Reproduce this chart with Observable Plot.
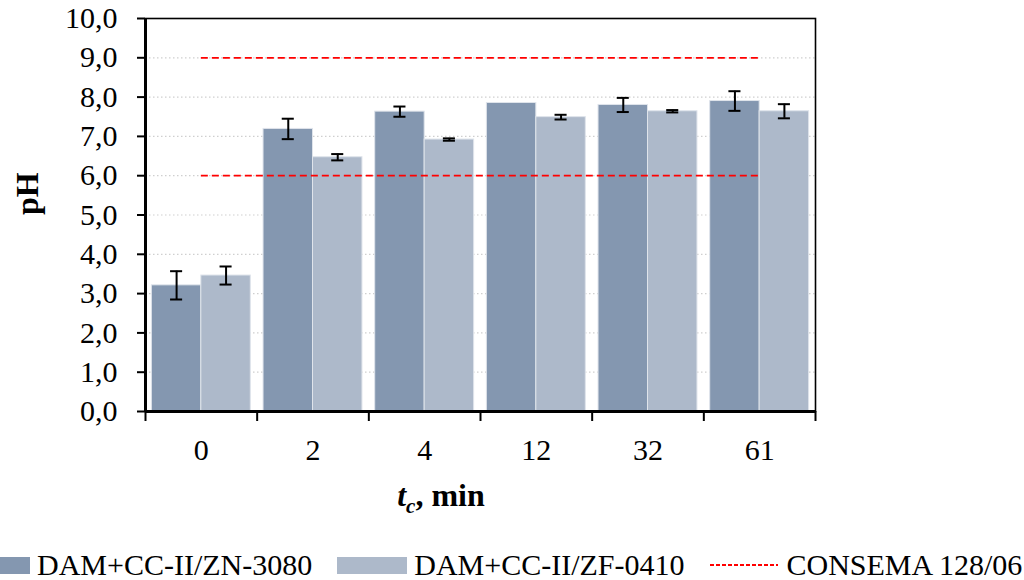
<!DOCTYPE html>
<html>
<head>
<meta charset="utf-8">
<script src="https://cdn.jsdelivr.net/npm/d3@7"></script>
<script src="https://cdn.jsdelivr.net/npm/@observablehq/plot@0.6"></script>
<style>
  html, body { margin: 0; padding: 0; background: #fff; }
  #wrap { position: relative; width: 1024px; height: 580px; overflow: hidden; }
  #legend { position: absolute; left: -40px; top: 548px; height: 34px; display: flex; align-items: center;
            white-space: nowrap; font-family: "Liberation Serif", "Times New Roman", serif; font-size: 30px; line-height: 34px; color: #000; }
  .sw { display: inline-block; width: 70px; height: 17px; }
</style>
</head>
<body>
<div id="wrap"></div>
<script>
// ---- data ----
const categories = ["0", "2", "4", "12", "32", "61"];
const seriesNames = ["DAM+CC-II/ZN-3080", "DAM+CC-II/ZF-0410"];
const zn    = [3.21, 7.19, 7.63, 7.85, 7.80, 7.90];
const znErr = [0.36, 0.26, 0.13, 0.00, 0.18, 0.25];
const zf    = [3.46, 6.47, 6.92, 7.49, 7.64, 7.64];
const zfErr = [0.23, 0.08, 0.03, 0.06, 0.03, 0.18];
const limitName = "CONSEMA 128/06";
const limits = [6, 9];
const yTicks = [0, 1, 2, 3, 4, 5, 6, 7, 8, 9, 10];
const colors = ["#8497b0", "#adb9ca"];

// ---- table ----
const rows = categories.flatMap((c, i) => [
  {i, s: 0, cat: c, v: zn[i], e: znErr[i]},
  {i, s: 1, cat: c, v: zf[i], e: zfErr[i]}
]);
const pad = 0.057, mid = 0.5, end = 0.943;
const x1 = d => d.i + (d.s === 0 ? pad : mid);
const x2 = d => d.i + (d.s === 0 ? mid : end);
const xc = d => (x1(d) + x2(d)) / 2;
const cap = 0.054;
const errRows = rows.filter(d => d.e > 0);
const boundaries = d3.range(0, categories.length + 1);
const centers = categories.map((c, i) => i + 0.5);

const chart = Plot.plot({
  width: 1024,
  height: 530,
  marginLeft: 145,
  marginRight: 209,
  marginTop: 18,
  marginBottom: 119,
  x: {domain: [0, categories.length]},
  y: {domain: [0, 10]},
  style: {fontFamily: "'Liberation Serif', 'Times New Roman', serif", fontSize: "30px", color: "#000", background: "#fff", overflow: "visible"},
  marks: [
    Plot.ruleY(yTicks.filter(t => t > 0 && t < 10), {stroke: "#cfcfcf", strokeWidth: 1.2, strokeDasharray: "1.5,2.5"}),
    Plot.rectY(rows, {x1, x2, y: "v", fill: d => colors[d.s], stroke: "#dfe4eb", strokeWidth: 1}),
    Plot.ruleY(limits, {x1: centers[0], x2: centers[centers.length - 1], stroke: "#ff0000", strokeWidth: 1.8, strokeDasharray: "7,4"}),
    Plot.ruleX(errRows, {x: xc, y1: d => d.v - d.e, y2: d => d.v + d.e, stroke: "#000", strokeWidth: 2}),
    Plot.ruleY(errRows, {y: d => d.v - d.e, x1: d => xc(d) - cap, x2: d => xc(d) + cap, stroke: "#000", strokeWidth: 2}),
    Plot.ruleY(errRows, {y: d => d.v + d.e, x1: d => xc(d) - cap, x2: d => xc(d) + cap, stroke: "#000", strokeWidth: 2}),
    Plot.frame({stroke: "#000", strokeWidth: 1.6}),
    Plot.ruleX([0], {stroke: "#000", strokeWidth: 3}),
    Plot.ruleY([0], {stroke: "#000", strokeWidth: 3}),
    Plot.axisY({ticks: yTicks, tickSize: 8, tickPadding: 20, strokeWidth: 2, tickFormat: d => d.toFixed(1).replace(".", ","), label: null}),
    Plot.axisX({ticks: boundaries, tickSize: 10, strokeWidth: 2, tickFormat: () => "", label: null}),
    Plot.axisX({ticks: centers, tickSize: 0, tickPadding: 27, tickFormat: d => categories[Math.round(d - 0.5)], label: null}),
    Plot.text(["pH"], {frameAnchor: "left", dx: -118, rotate: -90, fontWeight: "bold", fontSize: 32})
  ]
});

// x-axis title with italic t and subscript c
const svg = d3.select(chart);
const xt = svg.append("text")
  .attr("x", 441).attr("y", 506)
  .attr("text-anchor", "middle")
  .style("font-weight", "bold").style("font-size", "32px")
  .style("font-family", "'Liberation Serif', 'Times New Roman', serif");
xt.append("tspan").style("font-style", "italic").text("t");
xt.append("tspan").style("font-style", "italic").style("font-size", "21px").attr("dy", 7).text("c");
xt.append("tspan").attr("dy", -7).text(", min");

const wrap = document.getElementById("wrap");
wrap.appendChild(chart);

// legend
const legend = document.createElement("div");
legend.id = "legend";
legend.innerHTML =
  `<span class="sw" style="background:${colors[0]}"></span><span style="margin-left:7px">${seriesNames[0]}</span>` +
  `<span class="sw" style="background:${colors[1]};margin-left:25px"></span><span style="margin-left:7px">${seriesNames[1]}</span>` +
  `<svg width="68" height="6" style="margin-left:26px"><line x1="0" x2="68" y1="3" y2="3" stroke="#ff0000" stroke-width="2" stroke-dasharray="4,2"/></svg>` +
  `<span style="margin-left:8px">${limitName}</span>`;
wrap.appendChild(legend);
</script>
</body>
</html>
